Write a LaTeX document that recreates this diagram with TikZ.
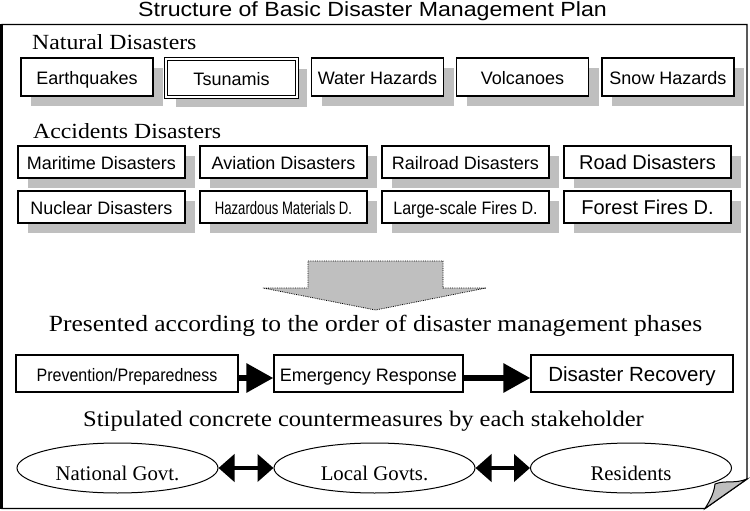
\documentclass[tikz,border=0pt]{standalone}
\usepackage{fontspec}
\setmainfont{Liberation Serif}
\setsansfont{Liberation Sans}
\newfontfamily\titlefont[FakeStretch=1.13]{Liberation Sans}
\newfontfamily\headfont[FakeStretch=1.1]{Liberation Serif}
\newfontfamily\narrowfont[FakeStretch=0.73]{Liberation Sans}
\newfontfamily\semifont[FakeStretch=0.89]{Liberation Sans}
\usetikzlibrary{shapes.geometric,shadows,arrows.meta}
\begin{document}
\begin{tikzpicture}[x=1pt,y=-1pt,
  box/.style={draw,line width=1.3pt,fill=white,inner sep=0pt,text height=15pt,text depth=0pt,font=\sffamily\fontsize{18}{20}\selectfont},
  shbox/.style={box,drop shadow={shadow xshift=10pt,shadow yshift=-10pt,fill=black!25,opacity=1}},
  nbox/.style={shbox,minimum width=132pt,minimum height=38pt},
  abox/.style={shbox,minimum width=167pt,minimum height=32pt},
  pbox/.style={box,minimum height=37pt},
  govt/.style={draw,ellipse,line width=1pt,fill=white,minimum width=201pt,minimum height=50pt,inner sep=0pt,text height=24pt,text depth=0pt,font=\fontsize{20.8}{22}\selectfont},
  heading/.style={font=\headfont\fontsize{21.6}{24}\selectfont,inner sep=0pt},
  fwd/.style={line width=6pt,-{Triangle[length=27pt,width=28pt]}},
  twoway/.style={line width=4.5pt,{Triangle[length=16pt,width=27pt]}-{Triangle[length=16pt,width=27pt]}}]
\useasboundingbox (0,0) rectangle (750,511);
\draw[line width=1.3pt] (2,24.5) -- (747,24.5) -- (747,479) -- (705,508.5) -- (2,508.5) -- cycle;
\draw[line width=3pt] (1.5,24) -- (1.5,509);
\draw[line width=1pt,fill=black!25] (747,479) .. controls (735,484) and (725,480) .. (715,484) .. controls (714,494) and (709,502) .. (705,508.5) -- cycle;
\node[font=\titlefont\fontsize{20.5}{22}\selectfont,anchor=base,inner sep=0pt] (title) at (372.5,17) {Structure of Basic Disaster Management Plan};

\node[heading,anchor=base west] (nat) at (32,50) {Natural Disasters};
\node[nbox] (n1) at (87,77) {Earthquakes};
\node[nbox,double,double distance=2pt,line width=1pt,minimum width=131pt,minimum height=38pt] (n2) at (231.5,78) {Tsunamis};
\node[nbox] (n3) at (377.5,77) {Water Hazards};
\node[nbox] (n4) at (522.5,77) {Volcanoes};
\node[nbox] (n5) at (668,77) {Snow Hazards};

\node[heading,anchor=base west] (acc) at (33,139) {Accidents Disasters};
\node[abox] (a1) at (101.5,162) {Maritime Disasters};
\node[abox] (a2) at (283.5,162) {Aviation Disasters};
\node[abox] (a3) at (465.5,162) {Railroad Disasters};
\node[abox] (a4) at (647.5,162) {\fontsize{20}{22}\selectfont Road Disasters};
\node[abox] (a5) at (101.5,207) {Nuclear Disasters};
\node[abox] (a6) at (283.5,207) {\narrowfont Hazardous Materials D.};
\node[abox] (a7) at (465.5,207) {\semifont Large-scale Fires D.};
\node[abox] (a8) at (647.5,207) {\fontsize{20}{22}\selectfont Forest Fires D.};

\draw[densely dotted,line width=0.8pt,fill=black!25] (308,261) -- (443,261) -- (443,288) -- (486,288) -- (375.5,310) -- (263,288) -- (308,288) -- cycle;

\node[heading,anchor=base,font=\headfont\fontsize{23.2}{26}\selectfont] (order) at (375.5,331) {Presented according to the order of disaster management phases};
\node[pbox,minimum width=222pt] (p1) at (127,373.5) {\semifont Prevention/Preparedness};
\node[pbox,minimum width=189pt] (p2) at (368.5,373.5) {Emergency Response};
\node[pbox,minimum width=202pt] (p3) at (632,373.5) {\fontsize{20.5}{22}\selectfont Disaster Recovery};
\draw[fwd] ([yshift=-4.5pt]p1.east) -- ([yshift=-4.5pt]p2.west);
\draw[fwd] ([yshift=-4.5pt]p2.east) -- ([yshift=-4.5pt]p3.west);

\node[heading,anchor=base,font=\headfont\fontsize{22.3}{25}\selectfont] (stake) at (363.5,426) {Stipulated concrete countermeasures by each stakeholder};
\node[govt] (g1) at (117.5,468) {National Govt.};
\node[govt] (g2) at (374.5,468) {Local Govts.};
\node[govt] (g3) at (631,468) {Residents};
\draw[twoway] (g1) -- (g2);
\draw[twoway] (g2) -- (g3);
\end{tikzpicture}
\end{document}
